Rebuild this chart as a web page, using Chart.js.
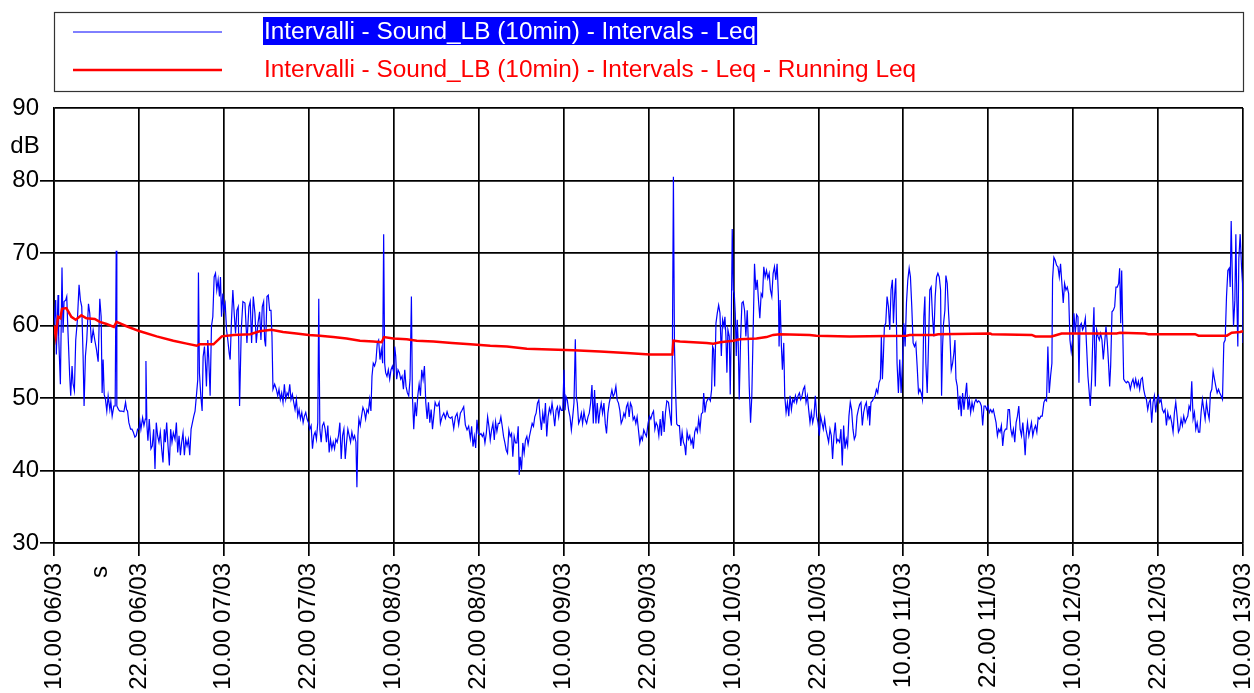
<!DOCTYPE html>
<html>
<head>
<meta charset="utf-8">
<script src="https://cdn.jsdelivr.net/npm/chart.js@4.4.1/dist/chart.umd.min.js"></script>
<style>
  html, body { margin: 0; padding: 0; background: #fff; }
  canvas { display: block; }
</style>
</head>
<body>
<canvas id="leqChart" width="1254" height="693"></canvas>
<script>
// Sound level, 10 min intervals. x = hours since 10.00 06/03
const leqHours = [
  0, 0.24, 0.33, 0.57, 0.66, 0.9, 1.13, 1.28, 1.42, 1.65,
  1.8, 1.94, 2.22, 2.36, 2.55, 2.69, 2.88, 3.07, 3.31, 3.54,
  3.73, 3.92, 4.11, 4.25, 4.44, 4.63, 4.87, 5.05, 5.29, 5.53,
  5.76, 6, 6.24, 6.47, 6.66, 6.8, 6.94, 7.09, 7.27, 7.46,
  7.65, 7.89, 8.03, 8.22, 8.46, 8.64, 8.79, 8.88, 9.12, 9.31,
  9.59, 9.87, 10.11, 10.25, 10.39, 10.58, 10.82, 11.01, 11.2, 11.43,
  11.62, 11.81, 12, 12.14, 12.28, 12.52, 12.71, 12.9, 12.99, 13.13,
  13.27, 13.46, 13.7, 13.89, 14.08, 14.27, 14.45, 14.64, 14.83, 15.02,
  15.21, 15.4, 15.59, 15.73, 15.92, 16.11, 16.3, 16.48, 16.67, 16.86,
  17.1, 17.29, 17.48, 17.67, 17.86, 18.04, 18.23, 18.42, 18.61, 18.8,
  18.99, 19.18, 19.37, 19.56, 19.75, 19.93, 20.12, 20.31, 20.41, 20.55,
  20.74, 20.93, 21.07, 21.26, 21.4, 21.54, 21.73, 21.87, 22.06, 22.25,
  22.44, 22.63, 22.82, 23, 23.19, 23.38, 23.52, 23.67, 23.85, 24,
  24.19, 24.38, 24.56, 24.75, 24.89, 25.08, 25.27, 25.46, 25.65, 25.84,
  26.03, 26.22,
  26.46, 26.69, 26.98, 27.26, 27.54, 27.73, 27.92, 28.16, 28.39, 28.58,
  28.82, 29.05, 29.24, 29.43, 29.62, 29.76, 29.9, 30.09, 30.28, 30.47,
  30.66, 30.8, 30.94, 31.18, 31.42, 31.61, 31.79, 31.98, 32.17, 32.36,
  32.55, 32.74, 32.93, 33.12, 33.31, 33.49, 33.68, 33.87, 34.06, 34.25,
  34.44, 34.63, 34.82, 35.01, 35.2, 35.38, 35.57, 35.76, 35.95, 36.14,
  36.33, 36.52, 36.71, 36.9, 37.08, 37.27, 37.41, 37.56, 37.75, 37.93,
  38.12, 38.31, 38.5, 38.69, 38.88, 39.07, 39.26, 39.45, 39.64, 39.82,
  40.01, 40.2, 40.39, 40.58, 40.77, 40.96, 41.15, 41.34, 41.52, 41.71,
  41.9, 42.09, 42.28, 42.47, 42.66, 42.8, 42.94, 43.08, 43.27, 43.46,
  43.65, 43.84, 44.03, 44.22, 44.41, 44.6, 44.78, 44.93, 45.11, 45.3,
  45.49, 45.68, 45.87, 46.06, 46.25, 46.44, 46.58, 46.72, 46.86, 47.05,
  47.24, 47.43, 47.62, 47.81, 48, 48.14, 48.28, 48.42, 48.61, 48.8,
  48.99, 49.18, 49.37, 49.56, 49.74, 49.93, 50.12, 50.31, 50.5, 50.64,
  50.83, 51.02, 51.21, 51.4, 51.59, 51.78, 51.96, 52.15, 52.34, 52.53,
  52.72, 52.91, 53.1, 53.29, 53.48, 53.66, 53.85, 54.04, 54.23, 54.42,
  54.6, 54.83, 55.07, 55.3, 55.54, 55.77, 56.01, 56.24, 56.48, 56.71,
  56.95, 57.18, 57.42, 57.65, 57.89, 58.12, 58.36, 58.59, 58.83, 59.01,
  59.2, 59.39, 59.58, 59.76, 59.95, 60.14, 60.33, 60.52, 60.7, 60.89,
  61.08, 61.27, 61.45, 61.64, 61.83, 62.02, 62.21, 62.39, 62.58, 62.77,
  62.96, 63.14, 63.33, 63.52, 63.71, 63.9, 64.08, 64.27, 64.46, 64.65,
  64.83, 65.02, 65.21, 65.4, 65.59, 65.73, 65.87, 66.06, 66.24, 66.43,
  66.62, 66.81, 66.99, 67.18, 67.37, 67.56, 67.75, 67.93, 68.12, 68.31,
  68.5, 68.68, 68.87, 69.06, 69.25, 69.44, 69.62, 69.81, 70, 70.19,
  70.37, 70.56, 70.75, 70.94, 71.13, 71.31, 71.5, 71.69, 71.88, 72.06,
  72.21, 72.35, 72.53, 72.72, 72.91, 73.1, 73.29, 73.47, 73.66, 73.8,
  73.94, 74.13, 74.32, 74.51, 74.69, 74.88, 75.07, 75.26, 75.45, 75.63,
  75.82, 76.01, 76.2, 76.38, 76.57, 76.76, 76.95, 77.14, 77.32, 77.51,
  77.7, 77.89, 78.07, 78.26, 78.45, 78.64, 78.83, 79.01, 79.2, 79.39,
  79.58, 79.76, 79.95, 80.14, 80.33, 80.52, 80.7, 80.89, 81.08, 81.27,
  81.45, 81.64, 81.83, 82.02, 82.21, 82.39, 82.58, 82.77, 82.96, 83.14,
  83.33, 83.52, 83.71, 83.94,
  84.14, 84.33, 84.52, 84.71, 84.9, 85.08, 85.27, 85.46, 85.65, 85.83,
  86.02, 86.21, 86.4, 86.59, 86.82, 87.06, 87.24, 87.38, 87.52, 87.67,
  87.85, 87.99, 88.18, 88.37, 88.56, 88.75, 88.93, 89.12, 89.26, 89.45,
  89.64, 89.83, 90.01, 90.2, 90.34, 90.53, 90.72, 90.91, 91.09, 91.28,
  91.47, 91.66, 91.8, 91.98, 92.17, 92.36, 92.55, 92.74, 92.92, 93.06,
  93.21, 93.35, 93.53, 93.72, 93.91, 94.1, 94.29, 94.47, 94.66, 94.8,
  94.94, 95.08, 95.22, 95.41, 95.55, 95.69, 95.83, 95.98, 96.12, 96.26,
  96.4, 96.54, 96.68, 96.82, 97.01, 97.2, 97.38, 97.57, 97.76, 97.95,
  98.09, 98.23, 98.42, 98.6, 98.79, 98.98, 99.17, 99.36, 99.54, 99.73,
  99.92, 100.11, 100.29, 100.48, 100.67, 100.86, 101.05, 101.23, 101.42, 101.61,
  101.8, 101.99, 102.17, 102.36, 102.45, 102.6, 102.78, 102.92, 103.11, 103.25,
  103.44, 103.63, 103.82, 104, 104.19, 104.38, 104.57, 104.76, 104.94, 105.13,
  105.32, 105.51, 105.69, 105.88, 106.07, 106.26, 106.45, 106.63, 106.82, 107.01,
  107.2, 107.38, 107.57, 107.76, 107.95, 108.14, 108.32, 108.51, 108.7, 108.89,
  109.07, 109.26, 109.45, 109.64, 109.83, 110.01, 110.2, 110.39, 110.58, 110.76,
  111, 111.19, 111.38, 111.57, 111.76, 111.94, 112.13, 112.32, 112.51, 112.7,
  112.89, 113.08, 113.27, 113.46, 113.65, 113.83, 114.02, 114.21, 114.4, 114.59,
  114.78, 114.97, 115.16, 115.25, 115.44, 115.63, 115.82, 116.01, 116.2, 116.39,
  116.57, 116.76, 116.9, 117.05, 117.19, 117.33, 117.52, 117.71, 117.9, 118.09,
  118.27, 118.46, 118.61, 118.79, 118.94, 119.12, 119.31, 119.5, 119.69, 119.88,
  120.07, 120.26, 120.45, 120.64, 120.83, 121.01, 121.2, 121.39, 121.58, 121.77,
  121.96, 122.15, 122.34, 122.53, 122.71, 122.9, 123.05, 123.19, 123.38, 123.57,
  123.75, 123.94, 124.13, 124.32, 124.51, 124.7, 124.89, 125.08, 125.27, 125.41,
  125.55, 125.69, 125.88, 126.02, 126.21, 126.4, 126.59, 126.78, 126.97, 127.15,
  127.3, 127.44, 127.63, 127.82, 128.01, 128.19, 128.38, 128.57, 128.76, 128.95,
  129.14, 129.33, 129.52, 129.71, 129.89, 130.08, 130.27, 130.46, 130.65, 130.84,
  131.03, 131.22, 131.41, 131.6, 131.78, 131.97, 132.16, 132.35, 132.54, 132.73,
  132.92, 133.11, 133.3, 133.48, 133.67, 133.86, 134.05, 134.24, 134.43, 134.62,
  134.81, 135, 135.19, 135.37, 135.56, 135.75, 135.94, 136.13, 136.32, 136.51,
  136.7, 136.89, 137.08, 137.22, 137.36, 137.55, 137.74, 137.93, 138.11, 138.3,
  138.49, 138.68, 138.87, 139.06, 139.25, 139.44, 139.63,
  139.87, 140.05, 140.24, 140.43, 140.62, 140.81, 141, 141.09, 141.28, 141.47,
  141.66, 141.85, 142.04, 142.22, 142.41, 142.6, 142.79, 142.98, 143.17, 143.36,
  143.55, 143.73, 143.92, 144.11, 144.3, 144.49, 144.68, 144.82, 144.96, 145.15,
  145.34, 145.53, 145.72, 145.9, 146.09, 146.28, 146.42, 146.61, 146.8, 146.94,
  147.13, 147.32, 147.51, 147.7, 147.88, 148.07, 148.26, 148.45, 148.64, 148.83,
  149.02, 149.16, 149.3, 149.49, 149.68, 149.87, 150.05, 150.24, 150.43, 150.57,
  150.72, 150.86, 151, 151.14, 151.33, 151.52, 151.71, 151.89, 152.08, 152.27,
  152.46, 152.65, 152.84, 153.03, 153.22, 153.4, 153.59, 153.78, 153.97, 154.16,
  154.35, 154.54, 154.72, 154.91, 155.1, 155.29, 155.48, 155.67, 155.86, 156.05,
  156.23, 156.42, 156.61, 156.8, 156.99, 157.18, 157.37, 157.55, 157.74, 157.93,
  158.12, 158.31, 158.5, 158.69, 158.88, 159.06, 159.25, 159.44, 159.63, 159.82,
  160.01, 160.2, 160.38, 160.57, 160.76, 160.95, 161.14, 161.33, 161.52, 161.71,
  161.89, 162.08, 162.27, 162.46, 162.65, 162.84, 163.03, 163.22, 163.4, 163.59,
  163.78, 163.97, 164.16, 164.35, 164.54, 164.72, 164.91, 165.1, 165.29, 165.48,
  165.67, 165.86, 166.05, 166.19, 166.33, 166.52, 166.66, 166.85, 166.99, 167.13,
  167.27, 167.41, 167.6, 167.79, 167.93, 168
];

const leqDb = [
  60, 63.5, 56, 64.2, 58.5, 51.9, 68, 59, 63.3, 63.5,
  64, 60, 53, 50.3, 54.4, 52, 51, 58, 60.8, 65.6,
  63.5, 62.6, 55.8, 48.9, 55.8, 58, 63, 61.7, 57.6, 59.4,
  58, 56.7, 55, 63.7, 61.2, 50.7, 55.3, 50.5, 49.8, 48.2,
  50.3, 48.4, 49.5, 47.5, 48.9, 48.9, 70.3, 48.9, 48.4, 48.2,
  48.2, 48.1, 49.4, 48.4, 48.2, 46.6, 45.7, 45.7, 45.3, 44.6,
  44.8, 45.7, 45.7, 46.8, 45.7, 47.3, 46.2, 47.1, 55.1, 46.2,
  44.1, 47.1, 43, 43.4, 45.7, 40.2, 46.6, 44.8, 43.9, 45.3,
  43, 41.1, 45.7, 43.9, 46.6, 43.4, 40.7, 45.7, 43.9, 45.2,
  44.3, 46.6, 42.5, 44.8, 42.1, 43.9, 45.2, 42.1, 44.3, 43.4,
  44.3, 42.1, 45.7, 46.6, 47.5, 48.2, 50.3, 52.5, 67.3, 53.4,
  50.3, 48.2, 55.7, 57.1, 54.8, 51.6, 58, 55.3, 50.3, 59.9,
  61.2, 66.7, 67.2, 64.9, 66.3, 64, 66.7, 61.2, 64.4, 62.1,
  63, 59.4, 58, 56.2, 55.3, 60.8, 64.9, 61.7, 58.9, 62.1,
  62.6, 48.9,
  59.4, 63.3, 63.1, 57.6, 62.6, 63.3, 57.6, 64, 61.7, 57.6,
  60.3, 61.9, 58, 62.6, 63.3, 58, 57.1, 64, 64.2, 62.1,
  62.1, 58.5, 51.2, 51.9, 51.2, 50.3, 51.2, 49.8, 50.7, 49.4,
  51.9, 49.8, 50.7, 50.3, 51.9, 49.8, 50.5, 49.4, 48.4, 49.8,
  47.5, 48.4, 47.1, 48, 46.6, 47.5, 48, 47.1, 46.6, 45.7,
  46.2, 43, 44.8, 45.3, 44.3, 46.6, 63.7, 45.7, 43.9, 46.2,
  46.6, 45.7, 43.9, 46.2, 42.5, 44.3, 43, 43.9, 43, 44.3,
  43.9, 44.8, 46.6, 41.6, 44.8, 45.7, 41.6, 43.9, 45.7, 44.8,
  43.9, 45.3, 44.3, 44.8, 43.9, 37.7, 44.8, 47.1, 46.2, 47.5,
  48.7, 48.2, 47.1, 48.4, 48, 49.8, 48.2, 53, 54.8, 54.4,
  55.1, 57.6, 58, 55.3, 56.7, 54.8, 72.6, 54.8, 53.5, 53,
  53.9, 52.6, 53.9, 54.4, 53.5, 57.1, 55.8, 52.6, 53.9, 53.5,
  52.6, 53, 51.2, 53.9, 51.6, 50.7, 50.3, 52.6, 64, 50.3,
  45.7, 49.4, 47.5, 50.3, 51.9, 50.3, 53.9, 52.6, 54.4, 49.4,
  47.1, 49.4, 46.6, 48.4, 45.7, 47.5, 49.4, 48.9, 48.9, 49.4,
  46.5, 47.4, 47.9, 47.2, 48.1, 47.4, 47.2, 47.4, 45.8, 47.4,
  47.9, 46.3, 47.9, 48.3, 48.8, 46.3, 45.6, 46.1, 44.4, 46.1,
  43.3, 44.7, 43.1, 47, 45.1, 44.9, 45.1, 44.7, 45.1, 43.8,
  45.1, 47.4, 46.1, 44.2, 45.6, 46.5, 44.2, 46.7, 45.4, 46.5,
  46.5, 47.4, 46.1, 44.7, 43.8, 42.8, 42.4, 45.6, 44.7, 45.1,
  41.9, 44.7, 43.8, 43.8, 46.1, 39.4, 41.9, 40.1, 43.8, 42.4,
  44.2, 44.7, 43.6, 44.7, 45.6, 46.5, 46.1, 47.4, 47.9, 49.3,
  49.7, 47.4, 45.6, 47.9, 46.5, 49.3, 44.7, 47.4, 48.6, 47.9,
  49.3, 47.9, 46.1, 48.3, 48.8, 47.4, 48.8, 48.3, 48.3, 53.9,
  48.3, 50.2, 49.7, 48.3, 47.4, 45.6, 47.4, 49.3, 58.1, 50.2,
  49.3, 46.5, 47, 47.9, 46.5, 48.1, 47, 46.5, 47.4, 47.9,
  49.3, 51.8, 46.5, 51.1, 46.5, 49.3, 46.5, 48.3, 49.3, 47.9,
  49.3, 46.5, 45.1, 47.9, 49.3, 50.2, 51.1, 50.2, 50.6, 51.6,
  49.7, 49.3, 48.3, 46.5, 47, 47.9, 47.4, 48.8, 49.3, 47.4,
  49.3, 48.8, 47, 47.4, 46.5, 47.4, 45.6, 43.8, 44.7, 44.2,
  45.6, 45.1, 44.7, 46.5,
  47.5, 47.1, 47.8, 48.2, 45.7, 46.6, 46.2, 44.8, 47.1, 44.8,
  48.2, 45.3, 48, 49.6, 49.4, 47.5, 46.2, 57.1, 80.5, 57.1,
  50.3, 46.4, 46.2, 46.2, 43.4, 45.3, 43.9, 43.4, 42.1, 45.3,
  44.3, 44.8, 43.7, 44.3, 43, 45.3, 45.9, 45.3, 47.1, 45.7,
  47.8, 48, 50.7, 48, 49.4, 49.8, 50, 49.6, 51.2, 57.1,
  56.7, 51.6, 60.3, 61.7, 62.8, 61.7, 55.8, 60.8, 59.9, 61.2,
  58.5, 53.5, 59.4, 58.5, 50.5, 59.4, 73.3, 64.9, 64.4, 61.7,
  55.8, 60.8, 57.6, 49.8, 58, 63.1, 63.3, 62.1, 58.5, 62.1,
  58, 51.6, 46.6, 50.3, 59.4, 68.5, 64.9, 66.3, 63.5, 61,
  64.4, 64, 68.1, 66.7, 67.6, 66.5, 67.2, 64.9, 64, 67.2,
  68.1, 66.3, 68.5, 64, 57.1, 63.5, 57.1, 53.9, 57.6, 50.3,
  48, 49.4, 47.5, 50.3, 48.4, 49.8, 49.4, 50.3, 49.4, 50.3,
  50.7, 49.8, 50.3, 51.2, 51.6, 49.4, 50.3, 48.4, 46.6, 48,
  46.6, 47.5, 50.3, 47.5, 46.6, 44.8, 47.5, 46.6, 45.7, 47.1,
  45.7, 44.8, 43.9, 45.7, 44.8, 41.6, 44.8, 46.6, 43.9, 44.3,
  43.9, 45.7, 40.7, 46.2, 43, 44.3, 43.4, 47.5, 49.4, 48.4,
  45.7, 44.3, 44.8, 47.5, 48.4, 49.1, 49.4, 46.2, 48, 48.9,
  49.4, 47.5, 48.9, 46.2, 49.4, 49.6, 50, 50.3, 51.2, 50.7,
  52.1, 52.6, 58.5, 52.6, 55.8, 59.9, 60.3, 64, 62.6, 59.4,
  64.9, 66.3, 60.3, 64.4, 66.5, 54.8, 50.7, 55.3, 50.7, 54.8,
  60.3, 57.1, 63.1, 66.3, 67.9, 66.7, 62.6, 57.6, 57.1, 57.6,
  54.4, 50.7, 51.2, 50.7, 49.8, 61.2, 64, 54.8, 50.7, 57.6,
  64.9, 65.3, 61.2, 58.5, 64, 66.7, 67.2, 66.7, 64.9, 50.3,
  57.1, 60.3, 62.1, 66.9, 65.8, 61.7, 58.5, 53.9, 54.8, 56.2,
  58, 52.6, 51.6, 48.4, 50.3, 47.5, 50.7, 48.4, 50.3, 52.1,
  48.4, 49.8, 48, 49.4, 48.4, 49.4, 49.8, 49.4, 49.6, 49.4,
  48.9, 46.2, 48.9, 48.9, 48.4, 48.9, 48, 48.4, 48, 48.4,
  47.5, 46.6, 44.8, 45.7, 45.3, 46.2, 43.4, 45.3, 45.7, 45.7,
  48.4, 48.4, 45.7, 44.8, 45.7, 43.9, 46.6, 47.5, 48.9, 45.7,
  44.8, 46.6, 44.3, 42.1, 44.8, 46.6, 44.8, 45.7, 46.6, 44.8,
  45.7, 46.2, 45.3, 47.3, 47.1, 47.5, 47.5,
  49.4, 49.8, 49.6, 57.1, 50.7, 53, 54.8, 66.3, 69.4, 69,
  68.3, 68.1, 66.7, 68.5, 65.8, 63.1, 65.8, 64.9, 65.3, 64.4,
  58, 56.4, 58, 61.7, 58.9, 61.5, 61.2, 52.1, 59.9, 60.3,
  59.4, 59.9, 61, 57.1, 53, 50.7, 48.9, 52.6, 58.9, 62.5,
  51.6, 59.4, 58.5, 58, 58.9, 58, 55.3, 57.6, 59.9, 57.6,
  54.4, 51.6, 54.4, 61.9, 62.1, 62.6, 65.3, 65.3, 65.8, 67.9,
  60.3, 67.6, 59.9, 52.6, 52.3, 52.1, 52.3, 52.1, 51.2, 52.1,
  52.6, 51.6, 52.6, 51.6, 52.3, 51.2, 52.6, 52.8, 51.2, 50.3,
  49.8, 48.4, 49.4, 49.8, 46.6, 49.4, 50.3, 48, 49.8, 50.3,
  49.4, 49.8, 48.4, 48, 48.4, 46.2, 48, 47.1, 47.5, 46.6,
  45.3, 48, 49.4, 47.5, 45.3, 45.7, 47.1, 46.2, 47.5, 46.6,
  47.1, 47.5, 48.9, 48.4, 52.3, 47.1, 48, 45.7, 46.6, 45.3,
  45.3, 48, 49.8, 48.4, 47.1, 49.4, 48, 47.1, 50.7, 51.2,
  53.7, 52.6, 51.6, 50.7, 51.2, 50.7, 50.3, 49.8, 57.6, 58,
  64, 67.6, 67.9, 65.3, 74.4, 65.3, 59.9, 63.5, 72.6, 63.5,
  57.1, 69.2, 72.6, 68.1, 65.8, 57.6
];

// Running Leq
const runningHours = [
  0, 0.24, 0.57, 0.9, 1.13, 1.75, 2.45, 3.07, 3.87, 4.58,
  5.76, 6.47, 7.42, 8.46, 8.83, 10.25, 12.14, 14.5, 16.86, 18.75,
  20.17, 20.55, 22.53, 23.71, 25.37, 27.73, 29.05, 30.71, 32.36, 34.25,
  36, 37.56, 39.45, 41.34, 43.23, 45.11, 46.3, 46.63, 47.95, 49.84,
  51.26, 53.62, 56.24, 58.83, 61.64, 63.99, 66.81, 70.09, 73.38, 77.14,
  80.89, 84.18, 87.38, 87.52, 88.46, 90.34, 92.22, 93.16, 94.1, 95.98,
  96.92, 99.26, 100.67, 101.61, 102.55, 106.77, 107.71, 112.41, 120.45, 120.92,
  124.46, 124.93, 132.26, 132.49, 138.16, 138.66, 140.95, 141.66, 142.37, 150.15,
  150.62, 154.16, 154.63, 161.23, 161.71, 165.72, 166.41, 167.58, 168
];
const runningDb = [
  60, 58.5, 61.2, 61, 62.3, 62.4, 61.2, 60.8, 61.4, 61,
  60.9, 60.5, 60.2, 59.8, 60.5, 59.9, 59.2, 58.5, 57.9, 57.5,
  57.2, 57.4, 57.4, 58.5, 58.7, 58.8, 59.2, 59.4, 59.1, 58.9,
  58.7, 58.6, 58.4, 58.2, 57.9, 57.8, 57.7, 58.4, 58.2, 58.1,
  57.9, 57.8, 57.6, 57.4, 57.2, 57.1, 56.8, 56.7, 56.6, 56.4,
  56.2, 56, 56, 57.9, 57.8, 57.7, 57.6, 57.5, 57.7, 57.9,
  58.1, 58.2, 58.4, 58.7, 58.8, 58.7, 58.6, 58.5, 58.6, 58.7,
  58.7, 58.8, 58.9, 58.8, 58.7, 58.5, 58.5, 58.7, 58.9, 58.9,
  59, 58.9, 58.8, 58.8, 58.6, 58.6, 59, 59.1, 59.2
];

const xTickLabels = [
  "10.00 06/03", "22.00 06/03", "10.00 07/03", "22.00 07/03", "10.00 08/03",
  "22.00 08/03", "10.00 09/03", "22.00 09/03", "10.00 10/03", "22.00 10/03",
  "10.00 11/03", "22.00 11/03", "10.00 12/03", "22.00 12/03", "10.00 13/03"
];
const seriesNames = [
  "Intervalli - Sound_LB (10min) - Intervals - Leq",
  "Intervalli - Sound_LB (10min) - Intervals - Leq - Running Leq"
];
const seriesColors = ["#0000ff", "#ff0000"];

const FONT = "'Liberation Sans', Arial, sans-serif";

// legend box on top, units "dB" and "s"
const extras = {
  id: "extras",
  afterDraw(chart) {
    const ctx = chart.ctx;
    const area = chart.chartArea;
    ctx.save();

    // legend frame
    ctx.strokeStyle = "#333";
    ctx.lineWidth = 1.2;
    ctx.strokeRect(area.left + 0.5, 12.5, area.right - area.left, 79);

    const rowY = [31, 69];
    ctx.font = "24.4px " + FONT;
    ctx.textBaseline = "middle";
    seriesNames.forEach((name, i) => {
      ctx.strokeStyle = seriesColors[i];
      ctx.lineWidth = i === 0 ? 1 : 2.5;
      ctx.beginPath();
      ctx.moveTo(73, rowY[i] + 1);
      ctx.lineTo(222, rowY[i] + 1);
      ctx.stroke();

      const w = ctx.measureText(name).width;
      if (i === 0) {
        ctx.fillStyle = "#0000ff";
        ctx.fillRect(263, rowY[i] - 14, w + 2, 28);
        ctx.fillStyle = "#fff";
      } else {
        ctx.fillStyle = "#ff0000";
      }
      ctx.fillText(name, 264, rowY[i] + 1);
    });

    // units
    ctx.font = "24px " + FONT;
    ctx.fillStyle = "#000";
    ctx.textAlign = "center";
    ctx.fillText("dB", 25, 146);
    ctx.translate(100, 572);
    ctx.rotate(-Math.PI / 2);
    ctx.fillText("s", 0, 0);
    ctx.restore();
  }
};

const ctx = document.getElementById("leqChart").getContext("2d");

new Chart(ctx, {
  type: "line",
  data: {
    datasets: [
      {
        label: seriesNames[0],
        data: leqHours.map((h, i) => ({ x: h, y: leqDb[i] })),
        borderColor: seriesColors[0],
        borderWidth: 1.2,
        pointRadius: 0,
        tension: 0,
        order: 1
      },
      {
        label: seriesNames[1],
        data: runningHours.map((h, i) => ({ x: h, y: runningDb[i] })),
        borderColor: seriesColors[1],
        borderWidth: 2.5,
        pointRadius: 0,
        tension: 0,
        order: 0
      }
    ]
  },
  options: {
    responsive: false,
    animation: false,
    events: [],
    layout: { padding: { top: 108, right: 11, left: 0, bottom: 0 } },
    plugins: {
      legend: { display: false },
      tooltip: { enabled: false }
    },
    scales: {
      x: {
        type: "linear",
        min: 0,
        max: 168,
        afterFit: (scale) => {
          scale.height = 150;
          scale.paddingLeft = 0;
          scale.paddingRight = 0;
        },
        grid: {
          color: "#000",
          lineWidth: 1.7,
          tickLength: 13
        },
        border: { color: "#000", width: 1.7 },
        ticks: {
          stepSize: 12,
          autoSkip: false,
          minRotation: 90,
          maxRotation: 90,
          padding: 7,
          color: "#000",
          font: { family: FONT, size: 24 },
          callback: (v) => xTickLabels[Math.round(v / 12)]
        }
      },
      y: {
        min: 30,
        max: 90,
        afterFit: (scale) => {
          scale.width = 54;
          scale.paddingTop = 0;
          scale.paddingBottom = 0;
        },
        grid: {
          color: "#000",
          lineWidth: 1.7,
          tickLength: 14,
          tickColor: (c) => (c.tick && c.tick.value === 90 ? "rgba(0,0,0,0)" : "#000")
        },
        border: { color: "#000", width: 1.7 },
        ticks: {
          stepSize: 10,
          padding: 1,
          color: "#000",
          font: { family: FONT, size: 24 }
        }
      }
    }
  },
  plugins: [extras]
});
</script>
</body>
</html>
